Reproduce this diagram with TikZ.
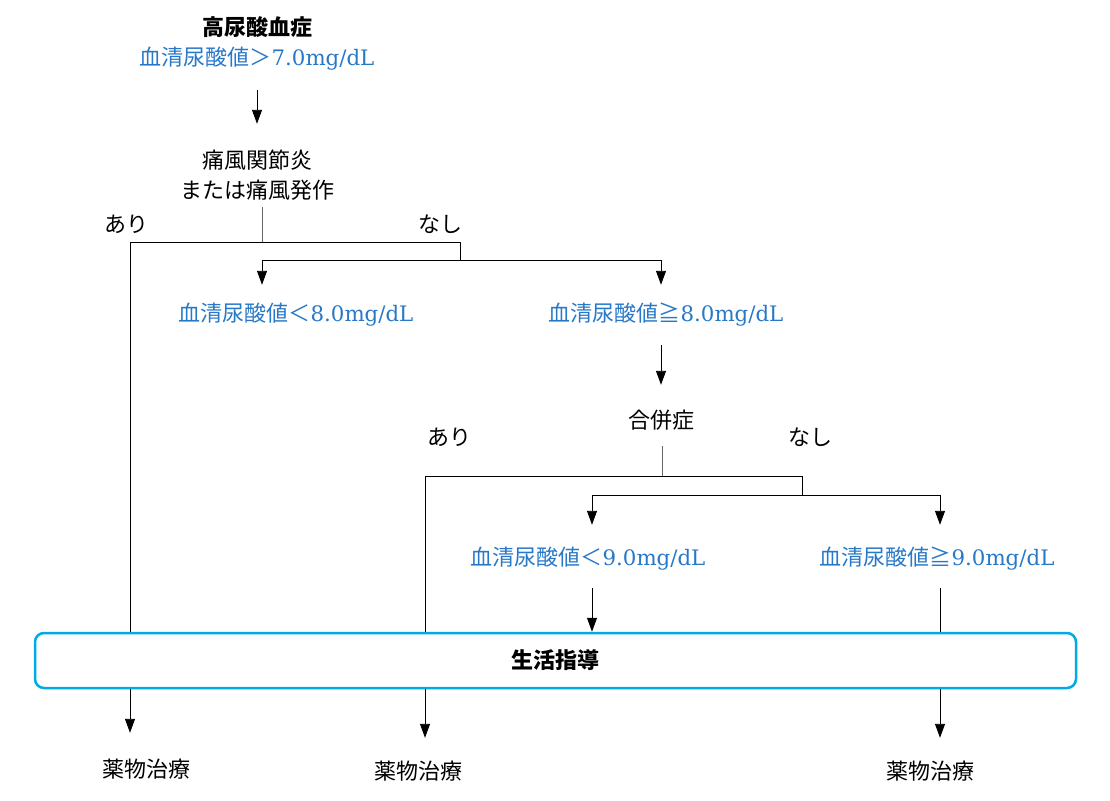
\documentclass[tikz,border=0pt]{standalone}
\usepackage{fontspec}
\usepackage{tikz}
\usetikzlibrary{arrows.meta}
\newfontfamily\jp{Noto Sans CJK JP}
\newfontfamily\latin{DejaVu Serif}[Scale=0.97]
\newcommand{\lat}[1]{{\latin #1}}
\definecolor{valblue}{RGB}{40,120,200}
\definecolor{boxblue}{RGB}{0,170,230}

\begin{document}
\begin{tikzpicture}[x=1pt,y=-1pt,
	txt/.style={font=\jp\fontsize{22}{26}\selectfont, inner sep=0pt, text height=19pt, text depth=3pt},
	title/.style={txt, font=\jp\bfseries\fontsize{22}{26}\selectfont},
	val/.style={txt, text=valblue},
	guidebox/.style={title, draw=boxblue, line width=2.5pt, rounded corners=9pt, minimum width=1041pt, minimum height=55pt},
	ln/.style={line width=0.9pt},
	arr/.style={ln, -{Triangle[length=14pt,width=10pt]}},
	stem/.style={line width=0.7pt, gray!80!black}]
	\useasboundingbox (0,0) rectangle (1110,800);

	\node[title] (hyper) at (257,28) {高尿酸血症};
	\node[val] (lim7) at (257,58) {血清尿酸値＞\lat{7.0mg/dL}};
	\node[txt] (goutA) at (257,160) {痛風関節炎};
	\node[txt] (goutB) at (257,190) {または痛風発作};
	\node[txt] (ari1) at (126,224) {あり};
	\node[txt] (nashi1) at (440,224) {なし};
	\node[val] (lt8) at (296,313) {血清尿酸値＜\lat{8.0mg/dL}};
	\node[val] (ge8) at (666,313) {血清尿酸値≧\lat{8.0mg/dL}};
	\node[txt] (comp) at (661,420) {合併症};
	\node[txt] (ari2) at (449,437) {あり};
	\node[txt] (nashi2) at (810,437) {なし};
	\node[val] (lt9) at (588,557) {血清尿酸値＜\lat{9.0mg/dL}};
	\node[val] (ge9) at (937,557) {血清尿酸値≧\lat{9.0mg/dL}};
	\node[guidebox] (guide) at (555.5,660.5) {生活指導};
	\node[txt] (drugA) at (146,769) {薬物治療};
	\node[txt] (drugB) at (418,771) {薬物治療};
	\node[txt] (drugC) at (930,771) {薬物治療};

	\coordinate (j1) at (262,242);
	\coordinate (l1) at (130,242);
	\coordinate (r1) at (460,242);
	\coordinate (b1) at (262,260);
	\coordinate (b2) at (661,260);
	\coordinate (j2) at (662,476);
	\coordinate (l2) at (425,476);
	\coordinate (r2) at (802,476);
	\coordinate (b3) at (592,495);
	\coordinate (b4) at (940,495);

	\draw[arr, shorten <=21pt, shorten >=25pt] (lim7) -- (goutA);
	\draw[stem, shorten <=6pt] (goutB.south -| j1) -- (j1);
	\draw[ln] (l1 |- guide.north) -- (l1) -- (r1) -- (r1 |- b1);
	\draw[ln] (b1) -- (b2);
	\draw[arr, shorten >=17pt] (b1) -- (b1 |- lt8.north);
	\draw[arr, shorten >=17pt] (b2) -- (b2 |- ge8.north);
	\draw[arr, shorten <=21pt, shorten >=24pt] (ge8.south -| comp) -- (comp.north);
	\draw[stem, shorten <=15pt] (comp.south -| j2) -- (j2);
	\draw[ln] (l2 |- guide.north) -- (l2) -- (r2) -- (r2 |- b3);
	\draw[ln] (b3) -- (b4);
	\draw[arr, shorten >=21pt] (b3) -- (b3 |- lt9.north);
	\draw[arr, shorten >=21pt] (b4) -- (b4 |- ge9.north);
	\draw[arr, shorten <=20pt] (b3 |- lt9.south) -- (b3 |- guide.north);
	\draw[ln, shorten <=20pt] (b4 |- ge9.south) -- (b4 |- guide.north);
	\draw[arr, shorten >=25pt] (l1 |- guide.south) -- (l1 |- drugA.north);
	\draw[arr, shorten >=22pt] (l2 |- guide.south) -- (l2 |- drugB.north);
	\draw[arr, shorten >=22pt] (b4 |- guide.south) -- (b4 |- drugC.north);
\end{tikzpicture}
\end{document}
